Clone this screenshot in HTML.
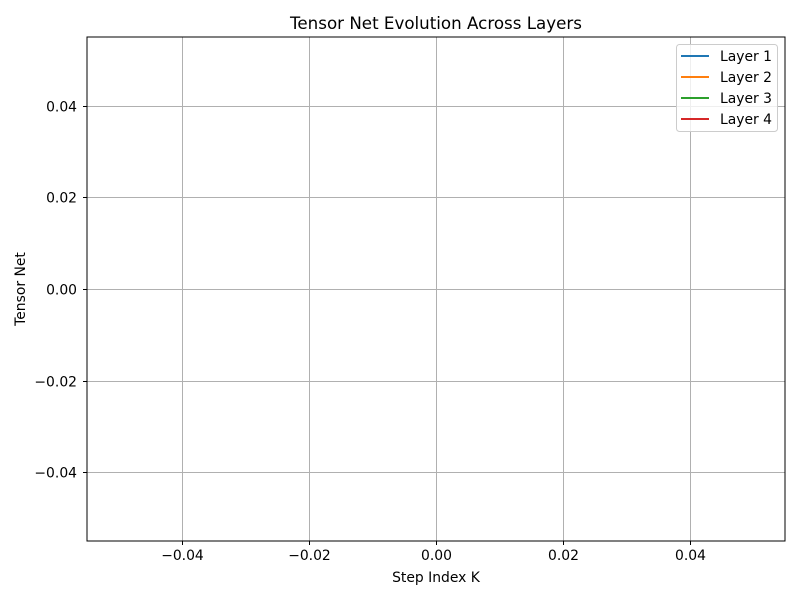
<!DOCTYPE html>
<html><head><meta charset="utf-8"><style>
body{margin:0;background:#fff;}
svg{display:block;font-family:"DejaVu Sans","Liberation Sans",sans-serif;}
</style></head><body>
<svg id="chart" width="800" height="600" viewBox="0 0 800 600">
<rect width="800" height="600" fill="#fff"/>
<text x="436" y="29" text-anchor="middle" font-size="16.7">Tensor Net Evolution Across Layers</text>
<g id="grid"></g>
<g id="series"></g>
<rect x="87" y="37" width="698" height="504" fill="none" stroke="#000" stroke-width="1"/>
<g id="ticks"></g>
<text x="436" y="582" text-anchor="middle" font-size="13.9">Step Index K</text>
<text x="25" y="289" text-anchor="middle" font-size="13.9" transform="rotate(-90 25 289)">Tensor Net</text>
<g id="legend"></g>
</svg>
<script>
const seriesNames = ["Layer 1","Layer 2","Layer 3","Layer 4"];
const seriesColors = ["#1f77b4","#ff7f0e","#2ca02c","#d62728"];
const stepValues = [];
const layer1Values = [];
const layer2Values = [];
const layer3Values = [];
const layer4Values = [];
const xTicks = [-0.04,-0.02,0,0.02,0.04];
const yTicks = [-0.04,-0.02,0,0.02,0.04];
const xTickLabels = ["\u22120.04","\u22120.02","0.00","0.02","0.04"];
const yTickLabels = ["\u22120.04","\u22120.02","0.00","0.02","0.04"];

const NS="http://www.w3.org/2000/svg";
const L=87,R=785,T=37,B=541,xMin=-0.055,xMax=0.055,yMin=-0.055,yMax=0.055;
const xs=v=>L+(v-xMin)/(xMax-xMin)*(R-L);
const ys=v=>B-(v-yMin)/(yMax-yMin)*(B-T);
function mk(tag,attrs,parent){const e=document.createElementNS(NS,tag);for(const k in attrs)e.setAttribute(k,attrs[k]);parent.appendChild(e);return e;}
const grid=document.getElementById('grid'),ticks=document.getElementById('ticks');
xTicks.forEach((v,i)=>{const x=Math.round(xs(v))+0.5;
 const g=mk('line',{x1:x,x2:x,y1:T,y2:B,stroke:'#b0b0b0','stroke-width':1},grid);
 
 
 const t=mk('line',{x1:x,x2:x,y1:B,y2:B+4,stroke:'#000','stroke-width':1},ticks);
 
 
 const l=mk('text',{x:x,y:B+19,'text-anchor':'middle','font-size':13.9},ticks);l.textContent=xTickLabels[i];
 
 
});
yTicks.forEach((v,i)=>{const y=Math.round(ys(v))+0.5;
 const g=mk('line',{x1:L,x2:R,y1:y,y2:y,stroke:'#b0b0b0','stroke-width':1},grid);
 
 
 const t=mk('line',{x1:L-4,x2:L,y1:y,y2:y,stroke:'#000','stroke-width':1},ticks);
 
 
 const l=mk('text',{x:L-10,y:y+5,'text-anchor':'end','font-size':13.9},ticks);l.textContent=yTickLabels[i];
 
 
});
const sg=document.getElementById('series');
[layer1Values,layer2Values,layer3Values,layer4Values].forEach((vals,i)=>{
 const pts=vals.map((v,j)=>xs(stepValues[j])+','+ys(v)).join(' ');
 const p=mk('polyline',{points:pts,fill:'none',stroke:seriesColors[i],'stroke-width':1.5},sg);
 
 
});
const lg=document.getElementById('legend');
const box=mk('rect',{x:676.5,y:44.5,width:101,height:87,rx:3,fill:'#fff','fill-opacity':0.8,stroke:'#ccc','stroke-width':1},lg);


seriesNames.forEach((n,i)=>{const y=56+i*21;
 const ln=mk('line',{x1:681,x2:709,y1:y,y2:y,stroke:seriesColors[i],'stroke-width':2},lg);
 
 
 const t=mk('text',{x:720,y:y+5,'font-size':13.9},lg);t.textContent=n;
 
 
});
</script>
</body></html>
